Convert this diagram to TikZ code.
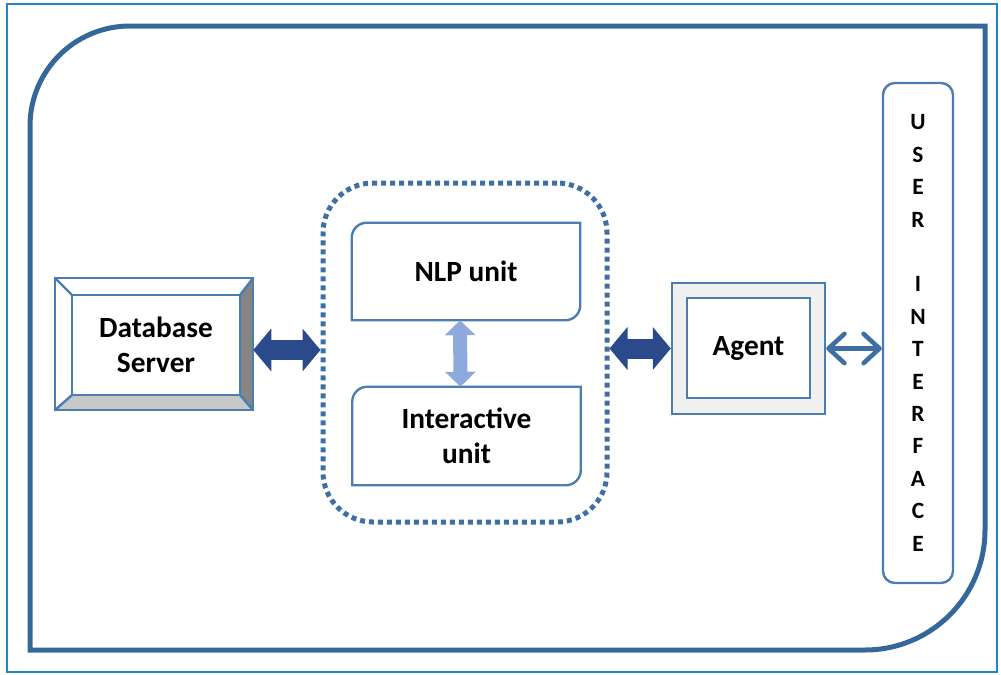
\documentclass[tikz,border=0pt]{standalone}
\usepackage{fontspec}
\setmainfont{Carlito}
\usetikzlibrary{arrows.meta,calc}

\definecolor{framecol}{HTML}{1E88C4}
\definecolor{maincol}{HTML}{35689A}
\definecolor{boxcol}{HTML}{4A7EB0}
\definecolor{darkarrow}{HTML}{2B4A8C}
\definecolor{lightarrow}{HTML}{8EAADC}
\definecolor{dotcol}{HTML}{3D6FA3}
\definecolor{bevdark}{HTML}{858585}
\definecolor{bevlight}{HTML}{C8C8C8}
\definecolor{agentfill}{HTML}{F0F0F0}

\tikzset{
  boxline/.style={draw=boxcol, line width=1.8pt},
  label/.style={font=\bfseries\fontsize{22}{26.5}\selectfont, align=center, text=black},
  plainbox/.style={minimum width=171pt, inner sep=0pt},
  bigarrow/.style={draw=darkarrow, line width=15pt,
    {Triangle[length=13.5pt,width=31.5pt]}-{Triangle[length=13.5pt,width=31.5pt]}},
  softarrow/.style={draw=lightarrow, line width=10.5pt,
    {Triangle[length=11.25pt,width=22.5pt]}-{Triangle[length=11.25pt,width=22.5pt]}},
  openarrow/.style={draw=dotcol, line width=3.4pt,
    {Straight Barb[length=12pt,width=22pt,line cap=round,line join=round]}-{Straight Barb[length=12pt,width=22pt,line cap=round,line join=round]}}
}

\begin{document}
\begin{tikzpicture}[x=0.75pt,y=-0.75pt]
\useasboundingbox (0,0) rectangle (1001,675);

% outer frame
\draw[framecol, line width=1.8pt] (7,4) rectangle (997,672);

% main enclosure with two rounded corners
\draw[maincol, line width=3.75pt]
  (30,650) -- (30,126) arc[start angle=180,end angle=270,radius=100]
  -- (985,26) -- (985,530) arc[start angle=0,end angle=90,radius=120] -- cycle;

% database server (bevelled box)
\node[draw=none, minimum width=148.5pt, minimum height=99pt, inner sep=0pt] (db) at (154,344) {};
\node[draw=none, minimum width=126pt, minimum height=75pt, inner sep=0pt, label] (dbin) at (156,345) {Database\\Server};
\fill[bevdark] (db.north east) -- (db.south east) -- (dbin.south east) -- (dbin.north east) -- cycle;
\fill[bevlight] (db.south west) -- (db.south east) -- (dbin.south east) -- (dbin.south west) -- cycle;
\draw[boxline] (db.north west) rectangle (db.south east);
\draw[boxline] (dbin.north west) rectangle (dbin.south east);
\draw[boxline] (db.north west) -- (dbin.north west);
\draw[boxline] (db.north east) -- (dbin.north east);
\draw[boxline] (db.south west) -- (dbin.south west);
\draw[boxline] (db.south east) -- (dbin.south east);

% dotted container
\node[draw=dotcol, line width=3.75pt, dash pattern=on 3.75pt off 3pt,
      rounded corners=37.5pt, minimum width=213pt, minimum height=254.25pt] (cont) at (465,352.5) {};

% NLP unit and interactive unit
\node[plainbox, minimum height=72.75pt, label] (nlp) at (466,271.5) {NLP unit};
\draw[boxline] (nlp.south west) -- ($(nlp.north west)+(0,15)$)
  arc[start angle=180,end angle=270,radius=15] -- (nlp.north east)
  -- ($(nlp.south east)+(0,-15)$) arc[start angle=0,end angle=90,radius=15] -- cycle;

\node[plainbox, minimum height=73.5pt, label] (inter) at (466.5,436) {Interactive\\unit};
\draw[boxline] (inter.south west) -- ($(inter.north west)+(0,15)$)
  arc[start angle=180,end angle=270,radius=15] -- (inter.north east)
  -- ($(inter.south east)+(0,-15)$) arc[start angle=0,end angle=90,radius=15] -- cycle;

% agent
\node[boxline, fill=agentfill, minimum width=114.75pt, minimum height=98.25pt, inner sep=0pt] (agent) at (748.5,348.5) {};
\node[boxline, fill=white, minimum width=92.25pt, minimum height=75pt, inner sep=0pt, label] (agentin) at (748.5,348) {Agent};

% user interface column
\node[boxline, rounded corners=9pt, minimum width=52.5pt, minimum height=375pt, inner sep=0pt,
      font=\bfseries\fontsize{17.5}{24.3}\selectfont, align=center] (ui) at (918,333)
  {U\\S\\E\\R\\\mbox{}\\I\\N\\T\\E\\R\\F\\A\\C\\E};

% connectors
\draw[bigarrow] (db.east |- 0,350) -- (cont.west |- 0,350);
\draw[bigarrow] (cont.east |- agent) -- (agent.west);
\draw[softarrow] ([xshift=-4.5pt]nlp.south) -- ([xshift=-4.5pt]inter.north);
\draw[openarrow] (agent.east) -- (ui.west |- agent.east);
\end{tikzpicture}
\end{document}
